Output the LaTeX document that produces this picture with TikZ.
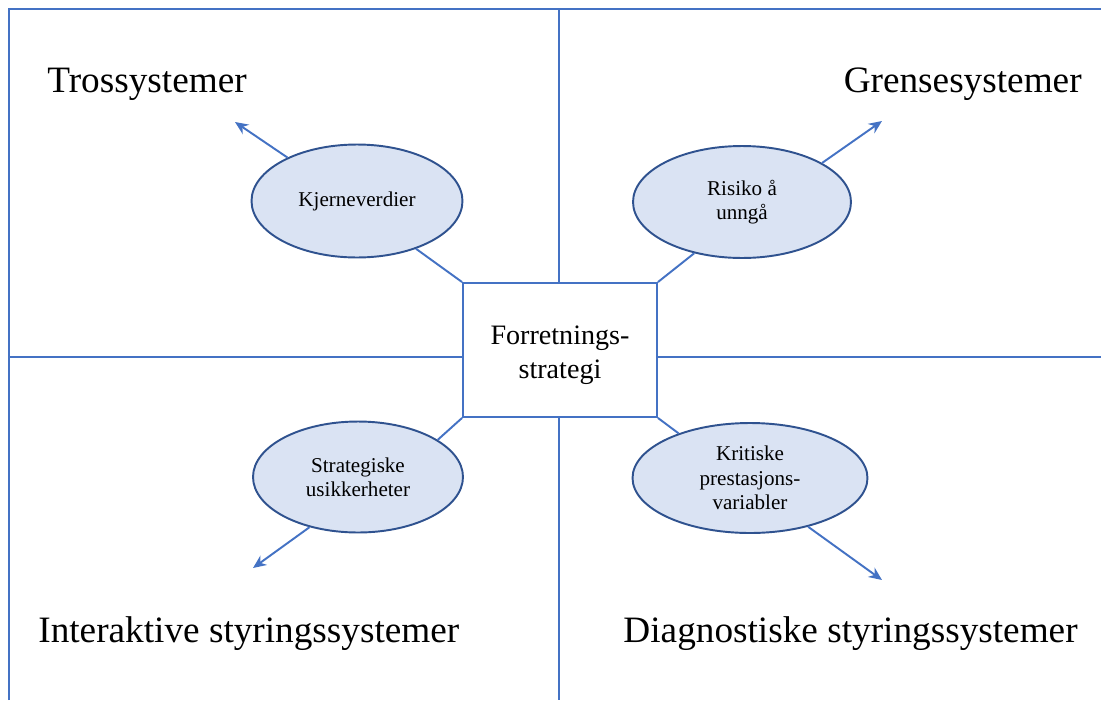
\documentclass[tikz,border=0pt]{standalone}
\usepackage{fontspec}
\setmainfont{Liberation Serif}
\usetikzlibrary{positioning,
  arrows.meta,
  shapes,
  calc
}
\definecolor{linjeblaa}{HTML}{4472C4}
\definecolor{kantblaa}{HTML}{2F528F}
\definecolor{fyllblaa}{HTML}{DAE3F3}

\begin{document}
\begin{tikzpicture}[x=0.02cm, y=-0.02cm,
  linje/.style={draw=linjeblaa, line width=1.1pt},
  boble/.style={ellipse, draw=kantblaa, fill=fyllblaa, line width=1.1pt,
    align=center, inner sep=0pt, font=\fontsize{12}{13.8}\selectfont},
  tittel/.style={inner sep=0pt, font=\fontsize{21.2}{25}\selectfont}]

  \useasboundingbox (0,0) rectangle (1101,700);
  \fill[white] (0,0) rectangle (1101,700);

  \node[draw=linjeblaa, line width=1.1pt, minimum width=3.88cm, minimum height=2.68cm]
  at (560,350) (strategi) {};
  \node[align=center, inner sep=0pt, font=\fontsize{16}{19.3}\selectfont]
  at ($(strategi)+(0,5)$) (strategitekst) {Forretnings-\\strategi};

  % rammen og delelinjene
  \coordinate (vt) at (559,9);
  \coordinate (vb) at (559,700);
  \coordinate (hl) at (9,357);
  \coordinate (hr) at (1101,357);
  \draw[linje] (9,700) -- (9,9) -- (1101,9);
  \draw[linje] (vt) -- (vt |- strategi.north);
  \draw[linje] (vb |- strategi.south) -- (vb);
  \draw[linje] (hl) -- (hl -| strategi.west);
  \draw[linje] (strategi.east |- hr) -- (hr);

  \node[tittel, anchor=base west] at (47,92) (tro) {Trossystemer};
  \node[tittel, anchor=base east] at (1082,92) (grense) {Grensesystemer};
  \node[tittel, anchor=base west] at (38,642) (interaktiv) {Interaktive styringssystemer};
  \node[tittel, anchor=base east] at (1078,642) (diagnostisk) {Diagnostiske styringssystemer};

  \node[boble, minimum width=4.22cm, minimum height=2.26cm] at (357,201) (kjerne)
  {Kjerneverdier};
  \node[boble, minimum width=4.36cm, minimum height=2.24cm] at (742,202) (risiko)
  {Risiko å\\unngå};
  \node[boble, minimum width=4.2cm, minimum height=2.22cm] at (358,477) (usikker)
  {Strategiske\\usikkerheter};
  \node[boble, minimum width=4.7cm, minimum height=2.2cm] at (750,478) (kritisk)
  {Kritiske\\prestasjons-\\variabler};

  \coordinate (pilTV) at (235,122);
  \coordinate (pilTH) at (882,121);
  \coordinate (pilBV) at (253,568);
  \coordinate (pilBH) at (882,580);

  \draw[linje] (strategi.north west) -- (kjerne.-39);
  \draw[linje] (strategi.north east) -- (risiko.227);
  \draw[linje] (strategi.south west) -- (usikker.25);
  \draw[linje] (strategi.south east) -- (kritisk.148);

  \draw[linje,->,>={Stealth[length=7.5pt,width=6.5pt]}] (kjerne.148) -- (pilTV);
  \draw[linje,->,>={Stealth[length=7.5pt,width=6.5pt]}] (risiko.26) -- (pilTH);
  \draw[linje,->,>={Stealth[length=7.5pt,width=6.5pt]}] (usikker.226) -- (pilBV);
  \draw[linje,->,>={Stealth[length=7.5pt,width=6.5pt]}] (kritisk.-40) -- (pilBH);
\end{tikzpicture}
\end{document}
